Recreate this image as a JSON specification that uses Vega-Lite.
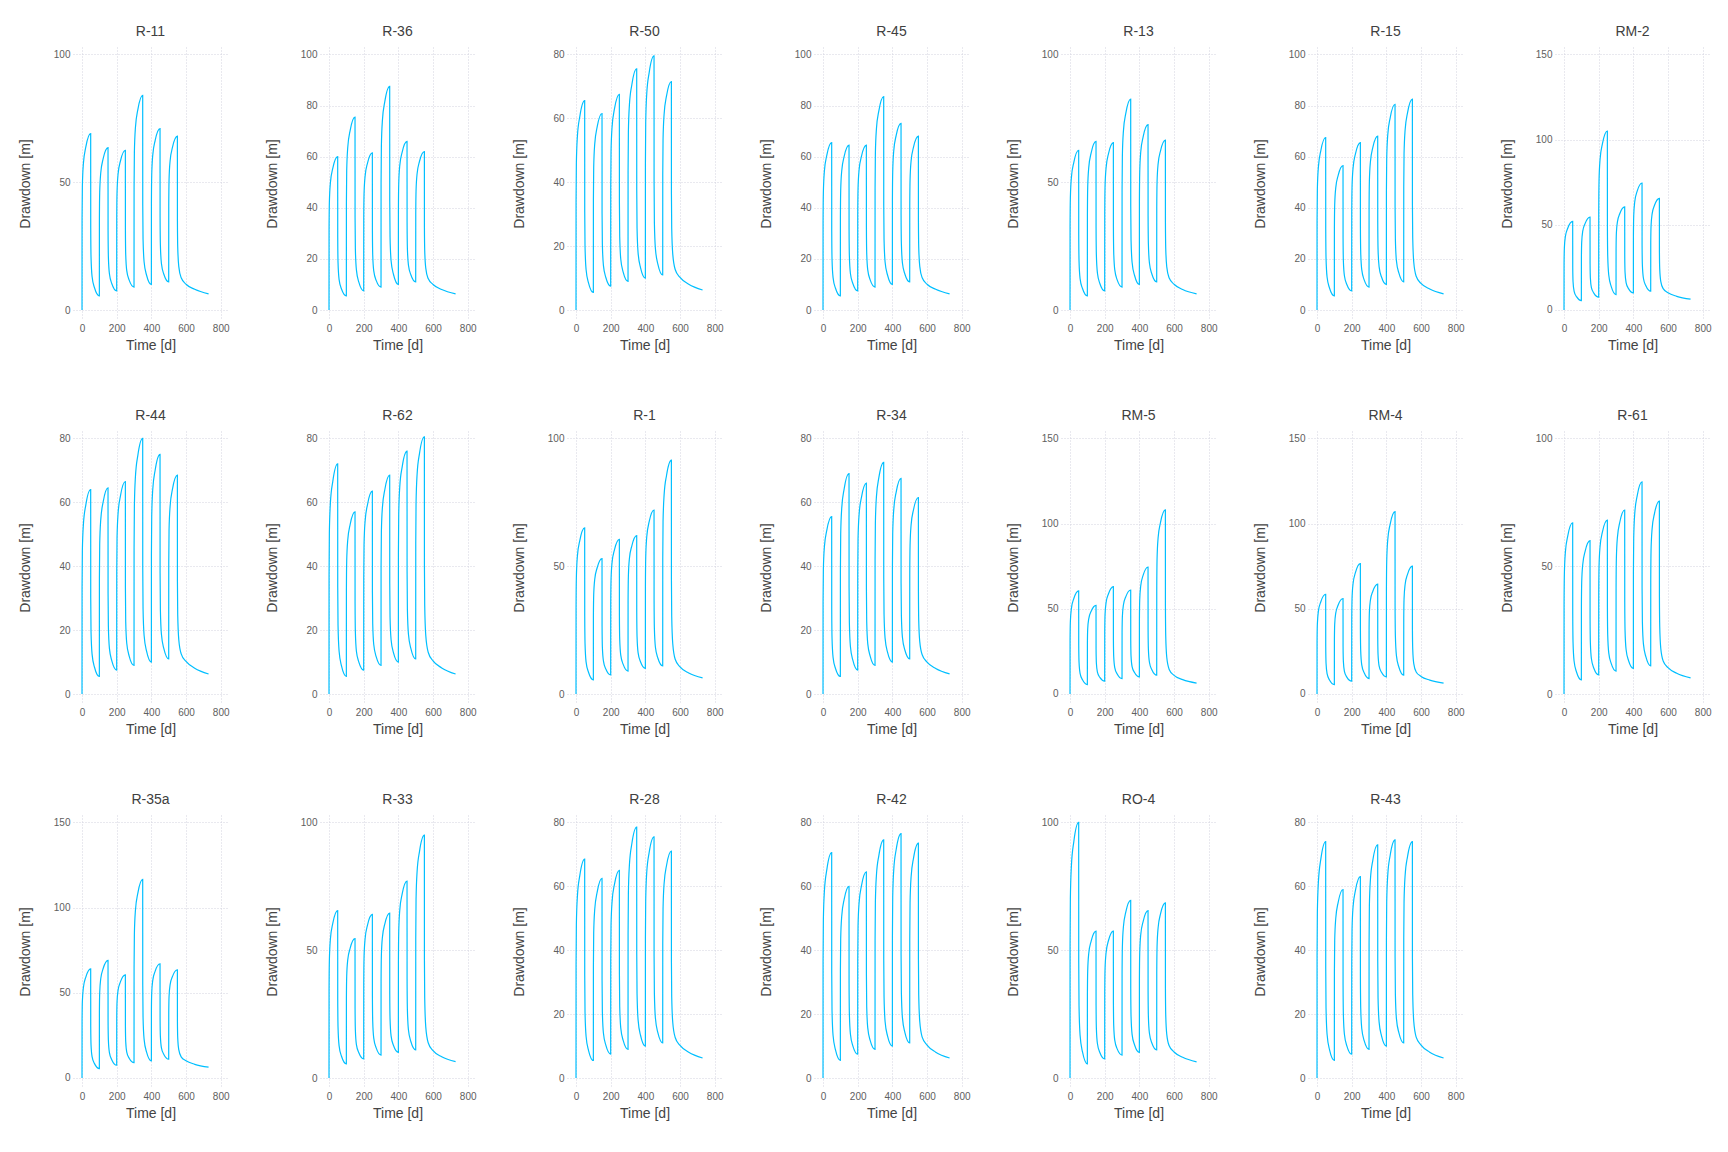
{
"$schema": "https://vega.github.io/schema/vega-lite/v6.json",
"background": "white",
"padding": {"left": 18, "top": 25, "right": 5, "bottom": 5},
"columns": 7,
"spacing": {"row": 111, "column": 92},
"bounds": "flush",
"concat": [
{"title":"R-11","data":{"values":[{"t":0,"s":0},{"t":0.3,"s":35.9},{"t":2,"s":48.3},{"t":8,"s":57.3},{"t":22,"s":63.8},{"t":50,"s":69},{"t":50.3,"s":32.2},{"t":52,"s":20.7},{"t":58,"s":13.1},{"t":72,"s":8.7},{"t":100,"s":5.5},{"t":100.3,"s":35.7},{"t":102,"s":46.1},{"t":108,"s":53.6},{"t":122,"s":59.2},{"t":150,"s":63.5},{"t":150.3,"s":31.0},{"t":152,"s":20.9},{"t":158,"s":14.2},{"t":172,"s":10.3},{"t":200,"s":7.5},{"t":200.3,"s":36.1},{"t":202,"s":46.0},{"t":208,"s":53.2},{"t":222,"s":58.4},{"t":250,"s":62.5},{"t":250.3,"s":31.5},{"t":252,"s":21.8},{"t":258,"s":15.4},{"t":272,"s":11.7},{"t":300,"s":9},{"t":300.3,"s":48},{"t":302,"s":61.5},{"t":308,"s":71.3},{"t":322,"s":78.4},{"t":350,"s":84},{"t":350.3,"s":41.1},{"t":352,"s":27.8},{"t":358,"s":18.9},{"t":372,"s":13.7},{"t":400,"s":10},{"t":400.3,"s":41.7},{"t":402,"s":52.7},{"t":408,"s":60.6},{"t":422,"s":66.4},{"t":450,"s":71},{"t":450.3,"s":36.2},{"t":452,"s":25.4},{"t":458,"s":18.2},{"t":472,"s":14},{"t":500,"s":11},{"t":500.3,"s":40.6},{"t":502,"s":50.9},{"t":508,"s":58.3},{"t":522,"s":63.7},{"t":550,"s":68},{"t":550.3,"s":34.9},{"t":552,"s":24.7},{"t":558,"s":17.1},{"t":572,"s":12.6},{"t":600,"s":10.1},{"t":650,"s":8.1},{"t":730,"s":6.3}]},
 "mark":{"type":"line","interpolate":"monotone","color":"#00BFFF","strokeWidth":1.2},
 "encoding":{"x":{"field":"t","type":"quantitative","title":"Time [d]","scale":{"domain":[-52,842],"nice":false,"zero":false},"axis":{"values":[0,200,400,600,800]}},
 "y":{"field":"s","type":"quantitative","title":"Drawdown [m]","scale":{"domain":[-3.9,102.9],"nice":false,"zero":false},"axis":{"values":[0,50,100]}}}},
{"title":"R-36","data":{"values":[{"t":0,"s":0},{"t":0.3,"s":31.2},{"t":2,"s":42.0},{"t":8,"s":49.8},{"t":22,"s":55.5},{"t":50,"s":60},{"t":50.3,"s":28.4},{"t":52,"s":18.6},{"t":58,"s":12.0},{"t":72,"s":8.2},{"t":100,"s":5.5},{"t":100.3,"s":41.9},{"t":102,"s":54.5},{"t":108,"s":63.6},{"t":122,"s":70.3},{"t":150,"s":75.5},{"t":150.3,"s":36.1},{"t":152,"s":23.8},{"t":158,"s":15.7},{"t":172,"s":10.9},{"t":200,"s":7.5},{"t":200.3,"s":35.6},{"t":202,"s":45.3},{"t":208,"s":52.3},{"t":222,"s":57.5},{"t":250,"s":61.5},{"t":250.3,"s":31.1},{"t":252,"s":21.6},{"t":258,"s":15.3},{"t":272,"s":11.6},{"t":300,"s":9},{"t":300.3,"s":49.8},{"t":302,"s":64.0},{"t":308,"s":74.2},{"t":322,"s":81.6},{"t":350,"s":87.5},{"t":350.3,"s":42.6},{"t":352,"s":28.6},{"t":358,"s":19.3},{"t":372,"s":13.9},{"t":400,"s":10},{"t":400.3,"s":39.1},{"t":402,"s":49.2},{"t":408,"s":56.5},{"t":422,"s":61.8},{"t":450,"s":66},{"t":450.3,"s":34.1},{"t":452,"s":24.2},{"t":458,"s":17.6},{"t":472,"s":13.8},{"t":500,"s":11},{"t":500.3,"s":37.5},{"t":502,"s":46.7},{"t":508,"s":53.3},{"t":522,"s":58.2},{"t":550,"s":62},{"t":550.3,"s":32.4},{"t":552,"s":23.2},{"t":558,"s":16.4},{"t":572,"s":12.3},{"t":600,"s":10.0},{"t":650,"s":8.0},{"t":730,"s":6.3}]},
 "mark":{"type":"line","interpolate":"monotone","color":"#00BFFF","strokeWidth":1.2},
 "encoding":{"x":{"field":"t","type":"quantitative","title":"Time [d]","scale":{"domain":[-52,842],"nice":false,"zero":false},"axis":{"values":[0,200,400,600,800]}},
 "y":{"field":"s","type":"quantitative","title":"Drawdown [m]","scale":{"domain":[-3.9,102.9],"nice":false,"zero":false},"axis":{"values":[0,20,40,60,80,100]}}}},
{"title":"R-50","data":{"values":[{"t":0,"s":0},{"t":0.3,"s":34.1},{"t":2,"s":45.9},{"t":8,"s":54.4},{"t":22,"s":60.6},{"t":50,"s":65.5},{"t":50.3,"s":30.7},{"t":52,"s":19.9},{"t":58,"s":12.7},{"t":72,"s":8.5},{"t":100,"s":5.5},{"t":100.3,"s":34.6},{"t":102,"s":44.7},{"t":108,"s":52.0},{"t":122,"s":57.3},{"t":150,"s":61.5},{"t":150.3,"s":30.2},{"t":152,"s":20.5},{"t":158,"s":14.0},{"t":172,"s":10.2},{"t":200,"s":7.5},{"t":200.3,"s":38.7},{"t":202,"s":49.5},{"t":208,"s":57.3},{"t":222,"s":63.0},{"t":250,"s":67.5},{"t":250.3,"s":33.6},{"t":252,"s":23.0},{"t":258,"s":16.0},{"t":272,"s":11.9},{"t":300,"s":9},{"t":300.3,"s":43.6},{"t":302,"s":55.6},{"t":308,"s":64.2},{"t":322,"s":70.5},{"t":350,"s":75.5},{"t":350.3,"s":37.5},{"t":352,"s":25.7},{"t":358,"s":17.9},{"t":372,"s":13.3},{"t":400,"s":10},{"t":400.3,"s":46.1},{"t":402,"s":58.7},{"t":408,"s":67.7},{"t":422,"s":74.3},{"t":450,"s":79.5},{"t":450.3,"s":39.8},{"t":452,"s":27.4},{"t":458,"s":19.2},{"t":472,"s":14.4},{"t":500,"s":11},{"t":500.3,"s":42.5},{"t":502,"s":53.4},{"t":508,"s":61.2},{"t":522,"s":67.0},{"t":550,"s":71.5},{"t":550.3,"s":36.4},{"t":552,"s":25.5},{"t":558,"s":17.5},{"t":572,"s":12.7},{"t":600,"s":10.2},{"t":650,"s":8.1},{"t":730,"s":6.3}]},
 "mark":{"type":"line","interpolate":"monotone","color":"#00BFFF","strokeWidth":1.2},
 "encoding":{"x":{"field":"t","type":"quantitative","title":"Time [d]","scale":{"domain":[-52,842],"nice":false,"zero":false},"axis":{"values":[0,200,400,600,800]}},
 "y":{"field":"s","type":"quantitative","title":"Drawdown [m]","scale":{"domain":[-3.1,82.3],"nice":false,"zero":false},"axis":{"values":[0,20,40,60,80]}}}},
{"title":"R-45","data":{"values":[{"t":0,"s":0},{"t":0.3,"s":34.1},{"t":2,"s":45.9},{"t":8,"s":54.4},{"t":22,"s":60.6},{"t":50,"s":65.5},{"t":50.3,"s":30.7},{"t":52,"s":19.9},{"t":58,"s":12.7},{"t":72,"s":8.5},{"t":100,"s":5.5},{"t":100.3,"s":36.2},{"t":102,"s":46.8},{"t":108,"s":54.5},{"t":122,"s":60.1},{"t":150,"s":64.5},{"t":150.3,"s":31.4},{"t":152,"s":21.2},{"t":158,"s":14.3},{"t":172,"s":10.4},{"t":200,"s":7.5},{"t":200.3,"s":37.1},{"t":202,"s":47.4},{"t":208,"s":54.8},{"t":222,"s":60.2},{"t":250,"s":64.5},{"t":250.3,"s":32.3},{"t":252,"s":22.3},{"t":258,"s":15.7},{"t":272,"s":11.8},{"t":300,"s":9},{"t":300.3,"s":47.7},{"t":302,"s":61.2},{"t":308,"s":70.8},{"t":322,"s":77.9},{"t":350,"s":83.5},{"t":350.3,"s":40.9},{"t":352,"s":27.6},{"t":358,"s":18.8},{"t":372,"s":13.7},{"t":400,"s":10},{"t":400.3,"s":42.8},{"t":402,"s":54.1},{"t":408,"s":62.3},{"t":422,"s":68.3},{"t":450,"s":73},{"t":450.3,"s":37.0},{"t":452,"s":25.9},{"t":458,"s":18.4},{"t":472,"s":14.1},{"t":500,"s":11},{"t":500.3,"s":40.6},{"t":502,"s":50.9},{"t":508,"s":58.3},{"t":522,"s":63.7},{"t":550,"s":68},{"t":550.3,"s":34.9},{"t":552,"s":24.7},{"t":558,"s":17.1},{"t":572,"s":12.6},{"t":600,"s":10.1},{"t":650,"s":8.1},{"t":730,"s":6.3}]},
 "mark":{"type":"line","interpolate":"monotone","color":"#00BFFF","strokeWidth":1.2},
 "encoding":{"x":{"field":"t","type":"quantitative","title":"Time [d]","scale":{"domain":[-52,842],"nice":false,"zero":false},"axis":{"values":[0,200,400,600,800]}},
 "y":{"field":"s","type":"quantitative","title":"Drawdown [m]","scale":{"domain":[-3.9,102.9],"nice":false,"zero":false},"axis":{"values":[0,20,40,60,80,100]}}}},
{"title":"R-13","data":{"values":[{"t":0,"s":0},{"t":0.3,"s":32.5},{"t":2,"s":43.8},{"t":8,"s":51.9},{"t":22,"s":57.8},{"t":50,"s":62.5},{"t":50.3,"s":29.4},{"t":52,"s":19.2},{"t":58,"s":12.3},{"t":72,"s":8.4},{"t":100,"s":5.5},{"t":100.3,"s":37.0},{"t":102,"s":47.9},{"t":108,"s":55.7},{"t":122,"s":61.5},{"t":150,"s":66},{"t":150.3,"s":32.1},{"t":152,"s":21.5},{"t":158,"s":14.5},{"t":172,"s":10.4},{"t":200,"s":7.5},{"t":200.3,"s":37.7},{"t":202,"s":48.1},{"t":208,"s":55.6},{"t":222,"s":61.2},{"t":250,"s":65.5},{"t":250.3,"s":32.7},{"t":252,"s":22.6},{"t":258,"s":15.8},{"t":272,"s":11.8},{"t":300,"s":9},{"t":300.3,"s":47.2},{"t":302,"s":60.5},{"t":308,"s":70.0},{"t":322,"s":77.0},{"t":350,"s":82.5},{"t":350.3,"s":40.5},{"t":352,"s":27.4},{"t":358,"s":18.7},{"t":372,"s":13.6},{"t":400,"s":10},{"t":400.3,"s":42.5},{"t":402,"s":53.8},{"t":408,"s":61.9},{"t":422,"s":67.8},{"t":450,"s":72.5},{"t":450.3,"s":36.8},{"t":452,"s":25.8},{"t":458,"s":18.4},{"t":472,"s":14.1},{"t":500,"s":11},{"t":500.3,"s":39.9},{"t":502,"s":49.9},{"t":508,"s":57.1},{"t":522,"s":62.3},{"t":550,"s":66.5},{"t":550.3,"s":34.3},{"t":552,"s":24.3},{"t":558,"s":16.9},{"t":572,"s":12.5},{"t":600,"s":10.1},{"t":650,"s":8.0},{"t":730,"s":6.3}]},
 "mark":{"type":"line","interpolate":"monotone","color":"#00BFFF","strokeWidth":1.2},
 "encoding":{"x":{"field":"t","type":"quantitative","title":"Time [d]","scale":{"domain":[-52,842],"nice":false,"zero":false},"axis":{"values":[0,200,400,600,800]}},
 "y":{"field":"s","type":"quantitative","title":"Drawdown [m]","scale":{"domain":[-3.9,102.9],"nice":false,"zero":false},"axis":{"values":[0,50,100]}}}},
{"title":"R-15","data":{"values":[{"t":0,"s":0},{"t":0.3,"s":35.1},{"t":2,"s":47.3},{"t":8,"s":56.0},{"t":22,"s":62.4},{"t":50,"s":67.5},{"t":50.3,"s":31.5},{"t":52,"s":20.4},{"t":58,"s":12.9},{"t":72,"s":8.6},{"t":100,"s":5.5},{"t":100.3,"s":32.0},{"t":102,"s":41.2},{"t":108,"s":47.8},{"t":122,"s":52.7},{"t":150,"s":56.5},{"t":150.3,"s":28.1},{"t":152,"s":19.3},{"t":158,"s":13.4},{"t":172,"s":10.0},{"t":200,"s":7.5},{"t":200.3,"s":37.7},{"t":202,"s":48.1},{"t":208,"s":55.6},{"t":222,"s":61.2},{"t":250,"s":65.5},{"t":250.3,"s":32.7},{"t":252,"s":22.6},{"t":258,"s":15.8},{"t":272,"s":11.8},{"t":300,"s":9},{"t":300.3,"s":39.7},{"t":302,"s":50.3},{"t":308,"s":58.0},{"t":322,"s":63.6},{"t":350,"s":68},{"t":350.3,"s":34.4},{"t":352,"s":23.9},{"t":358,"s":17.0},{"t":372,"s":12.9},{"t":400,"s":10},{"t":400.3,"s":46.7},{"t":402,"s":59.4},{"t":408,"s":68.5},{"t":422,"s":75.2},{"t":450,"s":80.5},{"t":450.3,"s":40.2},{"t":452,"s":27.7},{"t":458,"s":19.3},{"t":472,"s":14.5},{"t":500,"s":11},{"t":500.3,"s":48.2},{"t":502,"s":61.1},{"t":508,"s":70.3},{"t":522,"s":77.1},{"t":550,"s":82.5},{"t":550.3,"s":41.0},{"t":552,"s":28.2},{"t":558,"s":18.7},{"t":572,"s":13.2},{"t":600,"s":10.4},{"t":650,"s":8.2},{"t":730,"s":6.3}]},
 "mark":{"type":"line","interpolate":"monotone","color":"#00BFFF","strokeWidth":1.2},
 "encoding":{"x":{"field":"t","type":"quantitative","title":"Time [d]","scale":{"domain":[-52,842],"nice":false,"zero":false},"axis":{"values":[0,200,400,600,800]}},
 "y":{"field":"s","type":"quantitative","title":"Drawdown [m]","scale":{"domain":[-3.9,102.9],"nice":false,"zero":false},"axis":{"values":[0,20,40,60,80,100]}}}},
{"title":"RM-2","data":{"values":[{"t":0,"s":0},{"t":0.3,"s":27.0},{"t":2,"s":36.4},{"t":8,"s":43.2},{"t":22,"s":48.1},{"t":50,"s":52},{"t":50.3,"s":25.0},{"t":52,"s":16.7},{"t":58,"s":11.1},{"t":72,"s":7.8},{"t":100,"s":5.5},{"t":100.3,"s":31.0},{"t":102,"s":39.8},{"t":108,"s":46.2},{"t":122,"s":50.8},{"t":150,"s":54.5},{"t":150.3,"s":27.2},{"t":152,"s":18.8},{"t":158,"s":13.1},{"t":172,"s":9.9},{"t":200,"s":7.5},{"t":200.3,"s":58.2},{"t":202,"s":75.8},{"t":208,"s":88.4},{"t":222,"s":97.7},{"t":250,"s":105},{"t":250.3,"s":49.3},{"t":252,"s":32.0},{"t":258,"s":20.5},{"t":272,"s":13.8},{"t":300,"s":9},{"t":300.3,"s":35.8},{"t":302,"s":45.1},{"t":308,"s":51.7},{"t":322,"s":56.6},{"t":350,"s":60.5},{"t":350.3,"s":31.2},{"t":352,"s":22.1},{"t":358,"s":16.1},{"t":372,"s":12.5},{"t":400,"s":10},{"t":400.3,"s":43.5},{"t":402,"s":55.2},{"t":408,"s":63.5},{"t":422,"s":69.7},{"t":450,"s":74.5},{"t":450.3,"s":37.7},{"t":452,"s":26.2},{"t":458,"s":18.6},{"t":472,"s":14.2},{"t":500,"s":11},{"t":500.3,"s":39.3},{"t":502,"s":49.2},{"t":508,"s":56.2},{"t":522,"s":61.4},{"t":550,"s":65.5},{"t":550.3,"s":33.9},{"t":552,"s":24.1},{"t":558,"s":16.8},{"t":572,"s":12.5},{"t":600,"s":10.1},{"t":650,"s":8.0},{"t":730,"s":6.3}]},
 "mark":{"type":"line","interpolate":"monotone","color":"#00BFFF","strokeWidth":1.2},
 "encoding":{"x":{"field":"t","type":"quantitative","title":"Time [d]","scale":{"domain":[-52,842],"nice":false,"zero":false},"axis":{"values":[0,200,400,600,800]}},
 "y":{"field":"s","type":"quantitative","title":"Drawdown [m]","scale":{"domain":[-5.9,154.3],"nice":false,"zero":false},"axis":{"values":[0,50,100,150]}}}},
{"title":"R-44","data":{"values":[{"t":0,"s":0},{"t":0.3,"s":33.3},{"t":2,"s":44.8},{"t":8,"s":53.1},{"t":22,"s":59.2},{"t":50,"s":64},{"t":50.3,"s":30.1},{"t":52,"s":19.5},{"t":58,"s":12.5},{"t":72,"s":8.4},{"t":100,"s":5.5},{"t":100.3,"s":36.2},{"t":102,"s":46.8},{"t":108,"s":54.5},{"t":122,"s":60.1},{"t":150,"s":64.5},{"t":150.3,"s":31.4},{"t":152,"s":21.2},{"t":158,"s":14.3},{"t":172,"s":10.4},{"t":200,"s":7.5},{"t":200.3,"s":38.2},{"t":202,"s":48.8},{"t":208,"s":56.5},{"t":222,"s":62.1},{"t":250,"s":66.5},{"t":250.3,"s":33.2},{"t":252,"s":22.8},{"t":258,"s":15.9},{"t":272,"s":11.9},{"t":300,"s":9},{"t":300.3,"s":45.9},{"t":302,"s":58.7},{"t":308,"s":67.9},{"t":322,"s":74.7},{"t":350,"s":80},{"t":350.3,"s":39.4},{"t":352,"s":26.8},{"t":358,"s":18.4},{"t":372,"s":13.5},{"t":400,"s":10},{"t":400.3,"s":43.8},{"t":402,"s":55.5},{"t":408,"s":64.0},{"t":422,"s":70.1},{"t":450,"s":75},{"t":450.3,"s":37.9},{"t":452,"s":26.4},{"t":458,"s":18.7},{"t":472,"s":14.2},{"t":500,"s":11},{"t":500.3,"s":40.9},{"t":502,"s":51.3},{"t":508,"s":58.7},{"t":522,"s":64.2},{"t":550,"s":68.5},{"t":550.3,"s":35.2},{"t":552,"s":24.8},{"t":558,"s":17.1},{"t":572,"s":12.6},{"t":600,"s":10.2},{"t":650,"s":8.1},{"t":730,"s":6.3}]},
 "mark":{"type":"line","interpolate":"monotone","color":"#00BFFF","strokeWidth":1.2},
 "encoding":{"x":{"field":"t","type":"quantitative","title":"Time [d]","scale":{"domain":[-52,842],"nice":false,"zero":false},"axis":{"values":[0,200,400,600,800]}},
 "y":{"field":"s","type":"quantitative","title":"Drawdown [m]","scale":{"domain":[-3.1,82.3],"nice":false,"zero":false},"axis":{"values":[0,20,40,60,80]}}}},
{"title":"R-62","data":{"values":[{"t":0,"s":0},{"t":0.3,"s":37.4},{"t":2,"s":50.4},{"t":8,"s":59.8},{"t":22,"s":66.6},{"t":50,"s":72},{"t":50.3,"s":33.4},{"t":52,"s":21.5},{"t":58,"s":13.5},{"t":72,"s":8.8},{"t":100,"s":5.5},{"t":100.3,"s":32.3},{"t":102,"s":41.6},{"t":108,"s":48.2},{"t":122,"s":53.1},{"t":150,"s":57},{"t":150.3,"s":28.3},{"t":152,"s":19.4},{"t":158,"s":13.4},{"t":172,"s":10.0},{"t":200,"s":7.5},{"t":200.3,"s":36.6},{"t":202,"s":46.7},{"t":208,"s":54.0},{"t":222,"s":59.3},{"t":250,"s":63.5},{"t":250.3,"s":31.9},{"t":252,"s":22.1},{"t":258,"s":15.5},{"t":272,"s":11.7},{"t":300,"s":9},{"t":300.3,"s":39.9},{"t":302,"s":50.7},{"t":308,"s":58.4},{"t":322,"s":64.0},{"t":350,"s":68.5},{"t":350.3,"s":34.6},{"t":352,"s":24.0},{"t":358,"s":17.0},{"t":372,"s":12.9},{"t":400,"s":10},{"t":400.3,"s":44.3},{"t":402,"s":56.2},{"t":408,"s":64.8},{"t":422,"s":71.1},{"t":450,"s":76},{"t":450.3,"s":38.3},{"t":452,"s":26.6},{"t":458,"s":18.8},{"t":472,"s":14.3},{"t":500,"s":11},{"t":500.3,"s":47.1},{"t":502,"s":59.7},{"t":508,"s":68.7},{"t":522,"s":75.3},{"t":550,"s":80.5},{"t":550.3,"s":40.2},{"t":552,"s":27.7},{"t":558,"s":18.4},{"t":572,"s":13.1},{"t":600,"s":10.4},{"t":650,"s":8.2},{"t":730,"s":6.3}]},
 "mark":{"type":"line","interpolate":"monotone","color":"#00BFFF","strokeWidth":1.2},
 "encoding":{"x":{"field":"t","type":"quantitative","title":"Time [d]","scale":{"domain":[-52,842],"nice":false,"zero":false},"axis":{"values":[0,200,400,600,800]}},
 "y":{"field":"s","type":"quantitative","title":"Drawdown [m]","scale":{"domain":[-3.1,82.3],"nice":false,"zero":false},"axis":{"values":[0,20,40,60,80]}}}},
{"title":"R-1","data":{"values":[{"t":0,"s":0},{"t":0.3,"s":33.8},{"t":2,"s":45.5},{"t":8,"s":54.0},{"t":22,"s":60.1},{"t":50,"s":65},{"t":50.3,"s":30.5},{"t":52,"s":19.8},{"t":58,"s":12.6},{"t":72,"s":8.5},{"t":100,"s":5.5},{"t":100.3,"s":30.2},{"t":102,"s":38.8},{"t":108,"s":44.9},{"t":122,"s":49.4},{"t":150,"s":53},{"t":150.3,"s":26.6},{"t":152,"s":18.4},{"t":158,"s":13.0},{"t":172,"s":9.8},{"t":200,"s":7.5},{"t":200.3,"s":35.1},{"t":202,"s":44.6},{"t":208,"s":51.5},{"t":222,"s":56.5},{"t":250,"s":60.5},{"t":250.3,"s":30.6},{"t":252,"s":21.4},{"t":258,"s":15.2},{"t":272,"s":11.6},{"t":300,"s":9},{"t":300.3,"s":36.6},{"t":302,"s":46.1},{"t":308,"s":53.0},{"t":322,"s":58.0},{"t":350,"s":62},{"t":350.3,"s":31.8},{"t":352,"s":22.5},{"t":358,"s":16.2},{"t":372,"s":12.6},{"t":400,"s":10},{"t":400.3,"s":42.2},{"t":402,"s":53.4},{"t":408,"s":61.5},{"t":422,"s":67.4},{"t":450,"s":72},{"t":450.3,"s":36.6},{"t":452,"s":25.6},{"t":458,"s":18.3},{"t":472,"s":14.1},{"t":500,"s":11},{"t":500.3,"s":52.9},{"t":502,"s":67.4},{"t":508,"s":77.8},{"t":522,"s":85.5},{"t":550,"s":91.5},{"t":550.3,"s":44.8},{"t":552,"s":30.3},{"t":558,"s":19.7},{"t":572,"s":13.6},{"t":600,"s":10.6},{"t":650,"s":8.2},{"t":730,"s":6.3}]},
 "mark":{"type":"line","interpolate":"monotone","color":"#00BFFF","strokeWidth":1.2},
 "encoding":{"x":{"field":"t","type":"quantitative","title":"Time [d]","scale":{"domain":[-52,842],"nice":false,"zero":false},"axis":{"values":[0,200,400,600,800]}},
 "y":{"field":"s","type":"quantitative","title":"Drawdown [m]","scale":{"domain":[-3.9,102.9],"nice":false,"zero":false},"axis":{"values":[0,50,100]}}}},
{"title":"R-34","data":{"values":[{"t":0,"s":0},{"t":0.3,"s":28.9},{"t":2,"s":38.9},{"t":8,"s":46.1},{"t":22,"s":51.3},{"t":50,"s":55.5},{"t":50.3,"s":26.5},{"t":52,"s":17.5},{"t":58,"s":11.5},{"t":72,"s":8.0},{"t":100,"s":5.5},{"t":100.3,"s":38.5},{"t":102,"s":50.0},{"t":108,"s":58.2},{"t":122,"s":64.2},{"t":150,"s":69},{"t":150.3,"s":33.3},{"t":152,"s":22.3},{"t":158,"s":14.9},{"t":172,"s":10.6},{"t":200,"s":7.5},{"t":200.3,"s":37.9},{"t":202,"s":48.5},{"t":208,"s":56.1},{"t":222,"s":61.6},{"t":250,"s":66},{"t":250.3,"s":32.9},{"t":252,"s":22.7},{"t":258,"s":15.8},{"t":272,"s":11.9},{"t":300,"s":9},{"t":300.3,"s":42.0},{"t":302,"s":53.5},{"t":308,"s":61.7},{"t":322,"s":67.7},{"t":350,"s":72.5},{"t":350.3,"s":36.3},{"t":352,"s":25.0},{"t":358,"s":17.5},{"t":372,"s":13.1},{"t":400,"s":10},{"t":400.3,"s":39.9},{"t":402,"s":50.3},{"t":408,"s":57.7},{"t":422,"s":63.2},{"t":450,"s":67.5},{"t":450.3,"s":34.7},{"t":452,"s":24.6},{"t":458,"s":17.8},{"t":472,"s":13.8},{"t":500,"s":11},{"t":500.3,"s":37.3},{"t":502,"s":46.4},{"t":508,"s":52.9},{"t":522,"s":57.7},{"t":550,"s":61.5},{"t":550.3,"s":32.2},{"t":552,"s":23.1},{"t":558,"s":16.4},{"t":572,"s":12.3},{"t":600,"s":10.0},{"t":650,"s":8.0},{"t":730,"s":6.3}]},
 "mark":{"type":"line","interpolate":"monotone","color":"#00BFFF","strokeWidth":1.2},
 "encoding":{"x":{"field":"t","type":"quantitative","title":"Time [d]","scale":{"domain":[-52,842],"nice":false,"zero":false},"axis":{"values":[0,200,400,600,800]}},
 "y":{"field":"s","type":"quantitative","title":"Drawdown [m]","scale":{"domain":[-3.1,82.3],"nice":false,"zero":false},"axis":{"values":[0,20,40,60,80]}}}},
{"title":"RM-5","data":{"values":[{"t":0,"s":0},{"t":0.3,"s":31.5},{"t":2,"s":42.4},{"t":8,"s":50.2},{"t":22,"s":56.0},{"t":50,"s":60.5},{"t":50.3,"s":28.6},{"t":52,"s":18.7},{"t":58,"s":12.1},{"t":72,"s":8.3},{"t":100,"s":5.5},{"t":100.3,"s":29.7},{"t":102,"s":38.1},{"t":108,"s":44.1},{"t":122,"s":48.5},{"t":150,"s":52},{"t":150.3,"s":26.2},{"t":152,"s":18.2},{"t":158,"s":12.8},{"t":172,"s":9.7},{"t":200,"s":7.5},{"t":200.3,"s":36.4},{"t":202,"s":46.4},{"t":208,"s":53.6},{"t":222,"s":58.8},{"t":250,"s":63},{"t":250.3,"s":31.7},{"t":252,"s":22.0},{"t":258,"s":15.5},{"t":272,"s":11.7},{"t":300,"s":9},{"t":300.3,"s":36.0},{"t":302,"s":45.4},{"t":308,"s":52.2},{"t":322,"s":57.1},{"t":350,"s":61},{"t":350.3,"s":31.4},{"t":352,"s":22.2},{"t":358,"s":16.1},{"t":372,"s":12.6},{"t":400,"s":10},{"t":400.3,"s":43.5},{"t":402,"s":55.2},{"t":408,"s":63.5},{"t":422,"s":69.7},{"t":450,"s":74.5},{"t":450.3,"s":37.7},{"t":452,"s":26.2},{"t":458,"s":18.6},{"t":472,"s":14.2},{"t":500,"s":11},{"t":500.3,"s":61.4},{"t":502,"s":78.9},{"t":508,"s":91.5},{"t":522,"s":100.7},{"t":550,"s":108},{"t":550.3,"s":51.7},{"t":552,"s":34.3},{"t":558,"s":21.5},{"t":572,"s":14.4},{"t":600,"s":10.9},{"t":650,"s":8.4},{"t":730,"s":6.4}]},
 "mark":{"type":"line","interpolate":"monotone","color":"#00BFFF","strokeWidth":1.2},
 "encoding":{"x":{"field":"t","type":"quantitative","title":"Time [d]","scale":{"domain":[-52,842],"nice":false,"zero":false},"axis":{"values":[0,200,400,600,800]}},
 "y":{"field":"s","type":"quantitative","title":"Drawdown [m]","scale":{"domain":[-5.9,154.3],"nice":false,"zero":false},"axis":{"values":[0,50,100,150]}}}},
{"title":"RM-4","data":{"values":[{"t":0,"s":0},{"t":0.3,"s":30.4},{"t":2,"s":41.0},{"t":8,"s":48.6},{"t":22,"s":54.1},{"t":50,"s":58.5},{"t":50.3,"s":27.8},{"t":52,"s":18.2},{"t":58,"s":11.9},{"t":72,"s":8.2},{"t":100,"s":5.5},{"t":100.3,"s":31.8},{"t":102,"s":40.9},{"t":108,"s":47.4},{"t":122,"s":52.2},{"t":150,"s":56},{"t":150.3,"s":27.9},{"t":152,"s":19.1},{"t":158,"s":13.3},{"t":172,"s":9.9},{"t":200,"s":7.5},{"t":200.3,"s":43.4},{"t":202,"s":55.8},{"t":208,"s":64.8},{"t":222,"s":71.3},{"t":250,"s":76.5},{"t":250.3,"s":37.4},{"t":252,"s":25.2},{"t":258,"s":17.1},{"t":272,"s":12.4},{"t":300,"s":9},{"t":300.3,"s":37.9},{"t":302,"s":47.9},{"t":308,"s":55.1},{"t":322,"s":60.3},{"t":350,"s":64.5},{"t":350.3,"s":32.9},{"t":352,"s":23.1},{"t":358,"s":16.5},{"t":372,"s":12.7},{"t":400,"s":10},{"t":400.3,"s":60.4},{"t":402,"s":77.9},{"t":408,"s":90.5},{"t":422,"s":99.7},{"t":450,"s":107},{"t":450.3,"s":51.3},{"t":452,"s":34.0},{"t":458,"s":22.5},{"t":472,"s":15.8},{"t":500,"s":11},{"t":500.3,"s":44.3},{"t":502,"s":55.8},{"t":508,"s":64.1},{"t":522,"s":70.2},{"t":550,"s":75},{"t":550.3,"s":37.9},{"t":552,"s":26.4},{"t":558,"s":17.8},{"t":572,"s":12.9},{"t":600,"s":10.3},{"t":650,"s":8.1},{"t":730,"s":6.3}]},
 "mark":{"type":"line","interpolate":"monotone","color":"#00BFFF","strokeWidth":1.2},
 "encoding":{"x":{"field":"t","type":"quantitative","title":"Time [d]","scale":{"domain":[-52,842],"nice":false,"zero":false},"axis":{"values":[0,200,400,600,800]}},
 "y":{"field":"s","type":"quantitative","title":"Drawdown [m]","scale":{"domain":[-5.9,154.3],"nice":false,"zero":false},"axis":{"values":[0,50,100,150]}}}},
{"title":"R-61","data":{"values":[{"t":0,"s":0},{"t":0.3,"s":34.8},{"t":2,"s":46.9},{"t":8,"s":55.6},{"t":22,"s":62.0},{"t":50,"s":67},{"t":50.3,"s":31.3},{"t":52,"s":20.3},{"t":58,"s":12.9},{"t":72,"s":8.6},{"t":100,"s":5.5},{"t":100.3,"s":33.8},{"t":102,"s":43.7},{"t":108,"s":50.7},{"t":122,"s":55.9},{"t":150,"s":60},{"t":150.3,"s":29.6},{"t":152,"s":20.1},{"t":158,"s":13.8},{"t":172,"s":10.1},{"t":200,"s":7.5},{"t":200.3,"s":39.0},{"t":202,"s":49.9},{"t":208,"s":57.7},{"t":222,"s":63.5},{"t":250,"s":68},{"t":250.3,"s":33.8},{"t":252,"s":23.2},{"t":258,"s":16.1},{"t":272,"s":12.0},{"t":300,"s":9},{"t":300.3,"s":41.8},{"t":302,"s":53.1},{"t":308,"s":61.3},{"t":322,"s":67.3},{"t":350,"s":72},{"t":350.3,"s":36.0},{"t":352,"s":24.9},{"t":358,"s":17.4},{"t":372,"s":13.1},{"t":400,"s":10},{"t":400.3,"s":48.0},{"t":402,"s":61.1},{"t":408,"s":70.6},{"t":422,"s":77.5},{"t":450,"s":83},{"t":450.3,"s":41.2},{"t":452,"s":28.3},{"t":458,"s":19.6},{"t":472,"s":14.6},{"t":500,"s":11},{"t":500.3,"s":44.5},{"t":502,"s":56.2},{"t":508,"s":64.5},{"t":522,"s":70.7},{"t":550,"s":75.5},{"t":550.3,"s":38.1},{"t":552,"s":26.5},{"t":558,"s":17.9},{"t":572,"s":12.9},{"t":600,"s":10.3},{"t":650,"s":8.1},{"t":730,"s":6.3}]},
 "mark":{"type":"line","interpolate":"monotone","color":"#00BFFF","strokeWidth":1.2},
 "encoding":{"x":{"field":"t","type":"quantitative","title":"Time [d]","scale":{"domain":[-52,842],"nice":false,"zero":false},"axis":{"values":[0,200,400,600,800]}},
 "y":{"field":"s","type":"quantitative","title":"Drawdown [m]","scale":{"domain":[-3.9,102.9],"nice":false,"zero":false},"axis":{"values":[0,50,100]}}}},
{"title":"R-35a","data":{"values":[{"t":0,"s":0},{"t":0.3,"s":33.3},{"t":2,"s":44.8},{"t":8,"s":53.1},{"t":22,"s":59.2},{"t":50,"s":64},{"t":50.3,"s":30.1},{"t":52,"s":19.5},{"t":58,"s":12.5},{"t":72,"s":8.4},{"t":100,"s":5.5},{"t":100.3,"s":38.5},{"t":102,"s":50.0},{"t":108,"s":58.2},{"t":122,"s":64.2},{"t":150,"s":69},{"t":150.3,"s":33.3},{"t":152,"s":22.3},{"t":158,"s":14.9},{"t":172,"s":10.6},{"t":200,"s":7.5},{"t":200.3,"s":35.1},{"t":202,"s":44.6},{"t":208,"s":51.5},{"t":222,"s":56.5},{"t":250,"s":60.5},{"t":250.3,"s":30.6},{"t":252,"s":21.4},{"t":258,"s":15.2},{"t":272,"s":11.6},{"t":300,"s":9},{"t":300.3,"s":64.9},{"t":302,"s":84.3},{"t":308,"s":98.2},{"t":322,"s":108.4},{"t":350,"s":116.5},{"t":350.3,"s":54.7},{"t":352,"s":35.6},{"t":358,"s":22.8},{"t":372,"s":15.3},{"t":400,"s":10},{"t":400.3,"s":39.6},{"t":402,"s":49.9},{"t":408,"s":57.3},{"t":422,"s":62.7},{"t":450,"s":67},{"t":450.3,"s":34.5},{"t":452,"s":24.4},{"t":458,"s":17.7},{"t":472,"s":13.8},{"t":500,"s":11},{"t":500.3,"s":38.3},{"t":502,"s":47.8},{"t":508,"s":54.6},{"t":522,"s":59.6},{"t":550,"s":63.5},{"t":550.3,"s":33.1},{"t":552,"s":23.6},{"t":558,"s":16.6},{"t":572,"s":12.4},{"t":600,"s":10.1},{"t":650,"s":8.0},{"t":730,"s":6.3}]},
 "mark":{"type":"line","interpolate":"monotone","color":"#00BFFF","strokeWidth":1.2},
 "encoding":{"x":{"field":"t","type":"quantitative","title":"Time [d]","scale":{"domain":[-52,842],"nice":false,"zero":false},"axis":{"values":[0,200,400,600,800]}},
 "y":{"field":"s","type":"quantitative","title":"Drawdown [m]","scale":{"domain":[-5.9,154.3],"nice":false,"zero":false},"axis":{"values":[0,50,100,150]}}}},
{"title":"R-33","data":{"values":[{"t":0,"s":0},{"t":0.3,"s":34.1},{"t":2,"s":45.9},{"t":8,"s":54.4},{"t":22,"s":60.6},{"t":50,"s":65.5},{"t":50.3,"s":30.7},{"t":52,"s":19.9},{"t":58,"s":12.7},{"t":72,"s":8.5},{"t":100,"s":5.5},{"t":100.3,"s":31.0},{"t":102,"s":39.8},{"t":108,"s":46.2},{"t":122,"s":50.8},{"t":150,"s":54.5},{"t":150.3,"s":27.2},{"t":152,"s":18.8},{"t":158,"s":13.1},{"t":172,"s":9.9},{"t":200,"s":7.5},{"t":200.3,"s":36.9},{"t":202,"s":47.1},{"t":208,"s":54.4},{"t":222,"s":59.8},{"t":250,"s":64},{"t":250.3,"s":32.1},{"t":252,"s":22.2},{"t":258,"s":15.6},{"t":272,"s":11.8},{"t":300,"s":9},{"t":300.3,"s":37.9},{"t":302,"s":47.9},{"t":308,"s":55.1},{"t":322,"s":60.3},{"t":350,"s":64.5},{"t":350.3,"s":32.9},{"t":352,"s":23.1},{"t":358,"s":16.5},{"t":372,"s":12.7},{"t":400,"s":10},{"t":400.3,"s":44.8},{"t":402,"s":56.9},{"t":408,"s":65.6},{"t":422,"s":72.0},{"t":450,"s":77},{"t":450.3,"s":38.7},{"t":452,"s":26.8},{"t":458,"s":18.9},{"t":472,"s":14.3},{"t":500,"s":11},{"t":500.3,"s":54.7},{"t":502,"s":69.8},{"t":508,"s":80.7},{"t":522,"s":88.7},{"t":550,"s":95},{"t":550.3,"s":46.3},{"t":552,"s":31.2},{"t":558,"s":20.0},{"t":572,"s":13.8},{"t":600,"s":10.7},{"t":650,"s":8.3},{"t":730,"s":6.4}]},
 "mark":{"type":"line","interpolate":"monotone","color":"#00BFFF","strokeWidth":1.2},
 "encoding":{"x":{"field":"t","type":"quantitative","title":"Time [d]","scale":{"domain":[-52,842],"nice":false,"zero":false},"axis":{"values":[0,200,400,600,800]}},
 "y":{"field":"s","type":"quantitative","title":"Drawdown [m]","scale":{"domain":[-3.9,102.9],"nice":false,"zero":false},"axis":{"values":[0,50,100]}}}},
{"title":"R-28","data":{"values":[{"t":0,"s":0},{"t":0.3,"s":35.6},{"t":2,"s":48.0},{"t":8,"s":56.9},{"t":22,"s":63.4},{"t":50,"s":68.5},{"t":50.3,"s":32.0},{"t":52,"s":20.6},{"t":58,"s":13.1},{"t":72,"s":8.7},{"t":100,"s":5.5},{"t":100.3,"s":35.1},{"t":102,"s":45.4},{"t":108,"s":52.8},{"t":122,"s":58.2},{"t":150,"s":62.5},{"t":150.3,"s":30.6},{"t":152,"s":20.7},{"t":158,"s":14.1},{"t":172,"s":10.3},{"t":200,"s":7.5},{"t":200.3,"s":37.4},{"t":202,"s":47.8},{"t":208,"s":55.2},{"t":222,"s":60.7},{"t":250,"s":65},{"t":250.3,"s":32.5},{"t":252,"s":22.4},{"t":258,"s":15.7},{"t":272,"s":11.8},{"t":300,"s":9},{"t":300.3,"s":45.1},{"t":302,"s":57.7},{"t":308,"s":66.7},{"t":322,"s":73.3},{"t":350,"s":78.5},{"t":350.3,"s":38.8},{"t":352,"s":26.4},{"t":358,"s":18.2},{"t":372,"s":13.4},{"t":400,"s":10},{"t":400.3,"s":44.1},{"t":402,"s":55.9},{"t":408,"s":64.4},{"t":422,"s":70.6},{"t":450,"s":75.5},{"t":450.3,"s":38.1},{"t":452,"s":26.5},{"t":458,"s":18.7},{"t":472,"s":14.2},{"t":500,"s":11},{"t":500.3,"s":42.2},{"t":502,"s":53.0},{"t":508,"s":60.8},{"t":522,"s":66.5},{"t":550,"s":71},{"t":550.3,"s":36.2},{"t":552,"s":25.4},{"t":558,"s":17.4},{"t":572,"s":12.7},{"t":600,"s":10.2},{"t":650,"s":8.1},{"t":730,"s":6.3}]},
 "mark":{"type":"line","interpolate":"monotone","color":"#00BFFF","strokeWidth":1.2},
 "encoding":{"x":{"field":"t","type":"quantitative","title":"Time [d]","scale":{"domain":[-52,842],"nice":false,"zero":false},"axis":{"values":[0,200,400,600,800]}},
 "y":{"field":"s","type":"quantitative","title":"Drawdown [m]","scale":{"domain":[-3.1,82.3],"nice":false,"zero":false},"axis":{"values":[0,20,40,60,80]}}}},
{"title":"R-42","data":{"values":[{"t":0,"s":0},{"t":0.3,"s":36.7},{"t":2,"s":49.4},{"t":8,"s":58.5},{"t":22,"s":65.2},{"t":50,"s":70.5},{"t":50.3,"s":32.8},{"t":52,"s":21.1},{"t":58,"s":13.3},{"t":72,"s":8.8},{"t":100,"s":5.5},{"t":100.3,"s":33.8},{"t":102,"s":43.7},{"t":108,"s":50.7},{"t":122,"s":55.9},{"t":150,"s":60},{"t":150.3,"s":29.6},{"t":152,"s":20.1},{"t":158,"s":13.8},{"t":172,"s":10.1},{"t":200,"s":7.5},{"t":200.3,"s":37.1},{"t":202,"s":47.4},{"t":208,"s":54.8},{"t":222,"s":60.2},{"t":250,"s":64.5},{"t":250.3,"s":32.3},{"t":252,"s":22.3},{"t":258,"s":15.7},{"t":272,"s":11.8},{"t":300,"s":9},{"t":300.3,"s":43.1},{"t":302,"s":54.9},{"t":308,"s":63.4},{"t":322,"s":69.6},{"t":350,"s":74.5},{"t":350.3,"s":37.1},{"t":352,"s":25.5},{"t":358,"s":17.7},{"t":372,"s":13.2},{"t":400,"s":10},{"t":400.3,"s":44.6},{"t":402,"s":56.6},{"t":408,"s":65.2},{"t":422,"s":71.5},{"t":450,"s":76.5},{"t":450.3,"s":38.5},{"t":452,"s":26.7},{"t":458,"s":18.9},{"t":472,"s":14.3},{"t":500,"s":11},{"t":500.3,"s":43.5},{"t":502,"s":54.8},{"t":508,"s":62.9},{"t":522,"s":68.8},{"t":550,"s":73.5},{"t":550.3,"s":37.3},{"t":552,"s":26.0},{"t":558,"s":17.7},{"t":572,"s":12.8},{"t":600,"s":10.3},{"t":650,"s":8.1},{"t":730,"s":6.3}]},
 "mark":{"type":"line","interpolate":"monotone","color":"#00BFFF","strokeWidth":1.2},
 "encoding":{"x":{"field":"t","type":"quantitative","title":"Time [d]","scale":{"domain":[-52,842],"nice":false,"zero":false},"axis":{"values":[0,200,400,600,800]}},
 "y":{"field":"s","type":"quantitative","title":"Drawdown [m]","scale":{"domain":[-3.1,82.3],"nice":false,"zero":false},"axis":{"values":[0,20,40,60,80]}}}},
{"title":"RO-4","data":{"values":[{"t":0,"s":0},{"t":0.3,"s":52.0},{"t":2,"s":70.0},{"t":8,"s":83.0},{"t":22,"s":92.5},{"t":50,"s":100},{"t":50.3,"s":45.2},{"t":52,"s":28.2},{"t":58,"s":16.8},{"t":72,"s":10.2},{"t":100,"s":5.5},{"t":100.3,"s":32.5},{"t":102,"s":41.9},{"t":108,"s":48.7},{"t":122,"s":53.6},{"t":150,"s":57.5},{"t":150.3,"s":28.5},{"t":152,"s":19.5},{"t":158,"s":13.5},{"t":172,"s":10.0},{"t":200,"s":7.5},{"t":200.3,"s":33.5},{"t":202,"s":42.5},{"t":208,"s":49.0},{"t":222,"s":53.8},{"t":250,"s":57.5},{"t":250.3,"s":29.4},{"t":252,"s":20.6},{"t":258,"s":14.8},{"t":272,"s":11.4},{"t":300,"s":9},{"t":300.3,"s":40.5},{"t":302,"s":51.4},{"t":308,"s":59.2},{"t":322,"s":65.0},{"t":350,"s":69.5},{"t":350.3,"s":35.0},{"t":352,"s":24.3},{"t":358,"s":17.1},{"t":372,"s":13.0},{"t":400,"s":10},{"t":400.3,"s":38.9},{"t":402,"s":48.9},{"t":408,"s":56.1},{"t":422,"s":61.3},{"t":450,"s":65.5},{"t":450.3,"s":33.9},{"t":452,"s":24.1},{"t":458,"s":17.5},{"t":472,"s":13.7},{"t":500,"s":11},{"t":500.3,"s":40.9},{"t":502,"s":51.3},{"t":508,"s":58.7},{"t":522,"s":64.2},{"t":550,"s":68.5},{"t":550.3,"s":35.2},{"t":552,"s":24.8},{"t":558,"s":17.1},{"t":572,"s":12.6},{"t":600,"s":10.2},{"t":650,"s":8.1},{"t":730,"s":6.3}]},
 "mark":{"type":"line","interpolate":"monotone","color":"#00BFFF","strokeWidth":1.2},
 "encoding":{"x":{"field":"t","type":"quantitative","title":"Time [d]","scale":{"domain":[-52,842],"nice":false,"zero":false},"axis":{"values":[0,200,400,600,800]}},
 "y":{"field":"s","type":"quantitative","title":"Drawdown [m]","scale":{"domain":[-3.9,102.9],"nice":false,"zero":false},"axis":{"values":[0,50,100]}}}},
{"title":"R-43","data":{"values":[{"t":0,"s":0},{"t":0.3,"s":38.5},{"t":2,"s":51.8},{"t":8,"s":61.4},{"t":22,"s":68.5},{"t":50,"s":74},{"t":50.3,"s":34.3},{"t":52,"s":21.9},{"t":58,"s":13.7},{"t":72,"s":8.9},{"t":100,"s":5.5},{"t":100.3,"s":33.3},{"t":102,"s":43.0},{"t":108,"s":49.9},{"t":122,"s":55.0},{"t":150,"s":59},{"t":150.3,"s":29.1},{"t":152,"s":19.9},{"t":158,"s":13.7},{"t":172,"s":10.1},{"t":200,"s":7.5},{"t":200.3,"s":36.4},{"t":202,"s":46.4},{"t":208,"s":53.6},{"t":222,"s":58.8},{"t":250,"s":63},{"t":250.3,"s":31.7},{"t":252,"s":22.0},{"t":258,"s":15.5},{"t":272,"s":11.7},{"t":300,"s":9},{"t":300.3,"s":42.3},{"t":302,"s":53.8},{"t":308,"s":62.1},{"t":322,"s":68.2},{"t":350,"s":73},{"t":350.3,"s":36.5},{"t":352,"s":25.1},{"t":358,"s":17.6},{"t":372,"s":13.2},{"t":400,"s":10},{"t":400.3,"s":43.5},{"t":402,"s":55.2},{"t":408,"s":63.5},{"t":422,"s":69.7},{"t":450,"s":74.5},{"t":450.3,"s":37.7},{"t":452,"s":26.2},{"t":458,"s":18.6},{"t":472,"s":14.2},{"t":500,"s":11},{"t":500.3,"s":43.8},{"t":502,"s":55.1},{"t":508,"s":63.3},{"t":522,"s":69.3},{"t":550,"s":74},{"t":550.3,"s":37.5},{"t":552,"s":26.1},{"t":558,"s":17.7},{"t":572,"s":12.8},{"t":600,"s":10.3},{"t":650,"s":8.1},{"t":730,"s":6.3}]},
 "mark":{"type":"line","interpolate":"monotone","color":"#00BFFF","strokeWidth":1.2},
 "encoding":{"x":{"field":"t","type":"quantitative","title":"Time [d]","scale":{"domain":[-52,842],"nice":false,"zero":false},"axis":{"values":[0,200,400,600,800]}},
 "y":{"field":"s","type":"quantitative","title":"Drawdown [m]","scale":{"domain":[-3.1,82.3],"nice":false,"zero":false},"axis":{"values":[0,20,40,60,80]}}}}
],
"config": {
 "font": "Liberation Sans",
 "view": {"stroke": null, "continuousWidth": 155, "continuousHeight": 273},
 "title": {"font": "Liberation Sans", "fontSize": 14, "fontWeight": "normal", "color": "#404040", "anchor": "middle", "frame": "group", "baseline": "alphabetic", "offset": 8},
 "axis": {"domain": false, "ticks": false, "tickSize": 0, "grid": true, "gridColor": "#d3d3de", "gridDash": [1, 2], "gridWidth": 1, "labelFont": "Liberation Sans", "labelFontSize": 10, "labelColor": "#606060", "labelPadding": 3, "labelFlush": false, "titleFont": "Liberation Sans", "titleFontSize": 14, "titleFontWeight": "normal", "titleColor": "#444444"},
 "axisX": {"titleX": 77.5, "titleY": 29, "titleBaseline": "alphabetic", "titleAlign": "center"},
 "axisY": {"titleX": -48, "titleY": 136.5, "titleBaseline": "middle", "titleAlign": "center", "titleAngle": -90}
}
}
